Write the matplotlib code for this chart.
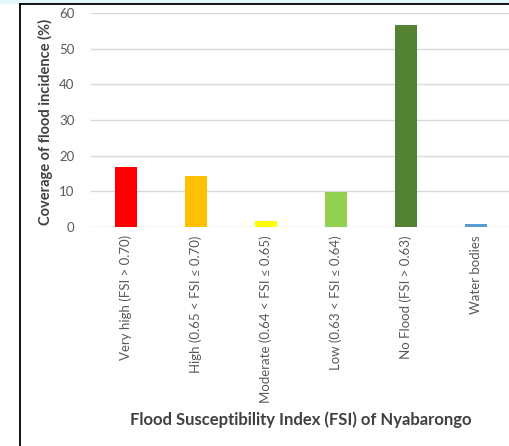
import matplotlib
matplotlib.use("Agg")
import matplotlib.pyplot as plt
from matplotlib.patches import Rectangle
from matplotlib.lines import Line2D

plt.rcParams['font.family'] = ['Lato', 'DejaVu Sans']

categories = ["Very high (FSI > 0.70)", "High (0.65 < FSI \u2264 0.70)",
              "Moderate (0.64 < FSI \u2264 0.65)", "Low (0.63 < FSI \u2264 0.64)",
              "No Flood (FSI > 0.63)", "Water bodies"]
coverage = [16.9, 14.4, 1.7, 9.9, 56.6, 0.8]
bar_colors = ["#FF0000", "#FFC000", "#FFFF00", "#92D050", "#548235", "#5B9BD5"]
yticks = [0, 10, 20, 30, 40, 50, 60]

W, H = 509, 446
fig = plt.figure(figsize=(W / 100, H / 100), dpi=100)

# light strip and frame lines around the chart area
fig.patches.append(Rectangle((0, 1 - 4 / H), 1, 4 / H, transform=fig.transFigure,
                             facecolor="#E4F8FB", edgecolor="none", zorder=0))
fig.lines.append(Line2D([20 / W, 1], [1 - 4 / H, 1 - 4 / H], transform=fig.transFigure,
                        color="black", lw=1.3))
fig.lines.append(Line2D([20 / W, 20 / W], [0, 1 - 4 / H], transform=fig.transFigure,
                        color="black", lw=1.3))

ax = fig.add_axes([91 / W, 1 - 227 / H, 420 / W, 214 / H])
x = range(len(categories))
ax.bar(x, coverage, width=0.31, color=bar_colors, zorder=3)

ax.set_xlim(-0.5, len(categories) - 0.5)
ax.set_ylim(0, 60)
ax.set_yticks(yticks)
ax.set_xticks(list(x))
ax.set_xticklabels(categories, rotation=90, fontsize=9.5, color="#595959")
ax.tick_params(axis="y", labelsize=9.5, labelcolor="#595959", length=0, pad=12)
ax.tick_params(axis="x", length=0, pad=6)
ax.grid(axis="y", color="#D9D9D9", lw=1, zorder=0)
for s in ax.spines.values():
    s.set_visible(False)

ax.set_ylabel("Coverage of flood incidence (%)", fontsize=10.5, fontweight="bold",
              color="#404040")
ax.yaxis.set_label_coords(-0.09, 0.49)
fig.text(301 / W, 1 - 420 / H, "Flood Susceptibility Index (FSI) of Nyabarongo",
         ha="center", va="center", fontsize=12, fontweight="bold", color="#404040")

fig.savefig("out.png", dpi=100)
